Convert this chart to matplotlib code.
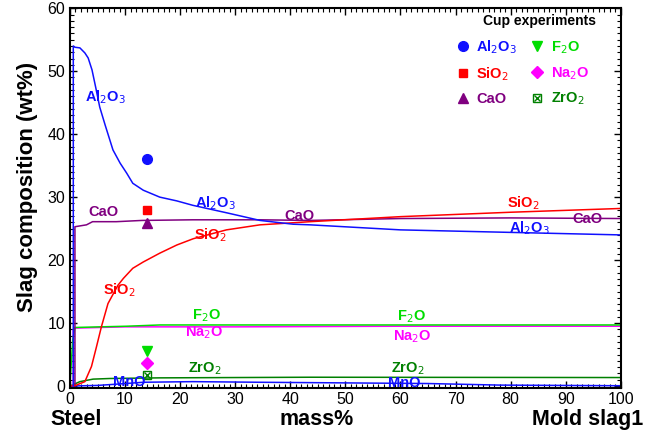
import matplotlib
matplotlib.use("Agg")
import matplotlib.pyplot as plt
from matplotlib.ticker import MultipleLocator
from matplotlib.legend_handler import HandlerTuple

plt.rcParams['font.family'] = ['Liberation Sans', 'DejaVu Sans']

# ---- data ----
al2o3_x = [0.6, 0.6, 0.9, 1.8, 2.7, 3.3, 4.0, 4.7, 5.4, 6.4, 7.8, 9.1, 10.3, 11.4, 13.3,
           16.3, 19.4, 22.3, 28.5, 34.5, 40.5, 43.6, 60, 80, 100]
al2o3_y = [0, 54.0, 53.8, 53.7, 52.9, 52.1, 50.2, 47.3, 44.3, 41.4, 37.5, 35.4, 33.8, 32.2, 31.1,
           30.0, 29.4, 28.7, 27.5, 26.3, 25.7, 25.6, 24.8, 24.4, 24.0]

sio2_x = [0, 1.0, 2.7, 3.9, 4.8, 5.7, 6.9, 8.7, 9.7, 11.4, 13.3, 16.3, 19.4, 22.4, 28.4, 34.5,
          43.6, 60, 80, 100]
sio2_y = [0, 0.1, 0.7, 3.1, 6.2, 9.4, 13.1, 16.0, 17.1, 18.7, 19.7, 21.1, 22.4, 23.4, 24.8, 25.6,
          26.1, 26.9, 27.6, 28.2]

cao_x = [0.9, 0.9, 3.0, 4.1, 8.4, 13.1, 22.3, 34.5, 43.6, 60, 80, 100]
cao_y = [0, 25.3, 25.6, 26.1, 26.1, 26.3, 26.4, 26.4, 26.3, 26.6, 26.7, 26.6]

f2o_x = [0, 0.2, 0.5, 0.9, 5.4, 10.3, 16.3, 40, 70, 100]
f2o_y = [0, 3.1, 7.3, 9.3, 9.4, 9.5, 9.7, 9.7, 9.7, 9.7]

na2o_x = [0.6, 0.6, 0.9, 10, 30, 60, 100]
na2o_y = [0, 9.0, 9.2, 9.4, 9.4, 9.5, 9.5]

zro2_x = [0, 1.8, 4.2, 7.3, 16.3, 43.6, 100]
zro2_y = [0, 0.7, 1.1, 1.2, 1.3, 1.4, 1.35]

mno_x = [0, 5.0, 8.5, 13.3, 22.3, 34.5, 50, 65, 78, 100]
mno_y = [0, 0.1, 0.3, 0.6, 0.7, 0.6, 0.5, 0.4, 0.15, 0.05]

cup_x = 14.0
cup_al2o3 = 36.1
cup_sio2 = 28.0
cup_cao = 25.9
cup_f2o = 5.6
cup_na2o = 3.6
cup_zro2 = 1.7

# label positions
labels_text = [r'Al$_2$O$_3$', 'CaO', r'SiO$_2$', r'Al$_2$O$_3$', r'SiO$_2$', 'CaO',
               r'SiO$_2$', 'CaO', r'Al$_2$O$_3$', r'F$_2$O', r'Na$_2$O', r'ZrO$_2$', 'MnO',
               r'F$_2$O', r'Na$_2$O', r'ZrO$_2$', 'MnO']
labels_x = [6.4, 6.0, 8.9, 26.5, 25.4, 41.7, 82.4, 94.0, 83.5, 24.7, 24.3, 24.5, 10.7,
            61.9, 62.1, 61.3, 60.6]
labels_y = [45.9, 27.6, 15.2, 29.0, 24.0, 27.0, 29.0, 26.5, 25.1, 11.1, 8.4, 2.7, 0.6,
            11.0, 7.8, 2.7, 0.5]

C_AL = '#1010FF'
C_SI = '#FF0000'
C_CA = '#800080'
C_F = '#00DD00'
C_NA = '#FF00FF'
C_ZR = '#008000'
C_MN = '#1010FF'
labels_color = [C_AL, C_CA, C_SI, C_AL, C_SI, C_CA, C_SI, C_CA, C_AL, C_F, C_NA, C_ZR, C_MN,
                C_F, C_NA, C_ZR, C_MN]

fig = plt.figure(figsize=(6.48, 4.32), dpi=100)
ax = fig.add_axes([0.108, 0.102, 0.850, 0.879])

lw = 1.1
ax.plot(zro2_x, zro2_y, color=C_ZR, lw=lw)
ax.plot(mno_x, mno_y, color=C_MN, lw=lw)
ax.plot(na2o_x, na2o_y, color=C_NA, lw=lw)
ax.plot(f2o_x, f2o_y, color=C_F, lw=lw)
ax.plot(cao_x, cao_y, color=C_CA, lw=lw)
ax.plot(sio2_x, sio2_y, color=C_SI, lw=lw)
ax.plot(al2o3_x, al2o3_y, color=C_AL, lw=lw)

for t, x, y, c in zip(labels_text, labels_x, labels_y, labels_color):
    ax.text(x, y, t, color=c, fontsize=10.5, fontweight='bold', ha='center', va='center')

h_al, = ax.plot([cup_x], [cup_al2o3], 'o', color=C_AL, ms=7, ls='none')
h_si, = ax.plot([cup_x], [cup_sio2], 's', color=C_SI, ms=6, ls='none')
h_ca, = ax.plot([cup_x], [cup_cao], '^', color=C_CA, ms=7, ls='none')
h_f, = ax.plot([cup_x], [cup_f2o], 'v', color=C_F, ms=7, ls='none')
h_na, = ax.plot([cup_x], [cup_na2o], 'D', color=C_NA, ms=6, ls='none')
h_zr1, = ax.plot([cup_x], [cup_zro2], 's', mfc='none', mec=C_ZR, ms=6, mew=1.0, ls='none')
h_zr2, = ax.plot([cup_x], [cup_zro2], 'x', color=C_ZR, ms=5, mew=1.0, ls='none')

leg = ax.legend([h_al, h_si, h_ca, h_f, h_na, (h_zr1, h_zr2)],
                [r'Al$_2$O$_3$', r'SiO$_2$', 'CaO', r'F$_2$O', r'Na$_2$O', r'ZrO$_2$'],
                ncol=2, frameon=False, loc='upper left', bbox_to_anchor=(0.6996, 0.921),
                borderaxespad=0, borderpad=0, handlelength=1.0, handletextpad=0.45,
                columnspacing=0.85, labelspacing=0.62,
                prop={'weight': 'bold', 'size': 10.5},
                handler_map={tuple: HandlerTuple(ndivide=1, pad=0)})
for txt, c in zip(leg.get_texts(), [C_AL, C_SI, C_CA, C_F, C_NA, C_ZR]):
    txt.set_color(c)
ax.text(0.853, 0.965, 'Cup experiments', transform=ax.transAxes, ha='center', va='center',
        fontsize=10, fontweight='bold')

ax.set_xlim(0, 100)
ax.set_ylim(-0.3, 60)
ax.xaxis.set_major_locator(MultipleLocator(10))
ax.xaxis.set_minor_locator(MultipleLocator(1))
ax.yaxis.set_major_locator(MultipleLocator(10))
ax.yaxis.set_minor_locator(MultipleLocator(1))
ax.tick_params(which='both', direction='in', top=True, right=True, labelsize=11.5)
ax.tick_params(which='major', length=5, width=1)
ax.tick_params(which='minor', length=3, width=0.8)
ax.tick_params(axis='x', pad=3)
for s in ax.spines.values():
    s.set_linewidth(1.5)

ax.text(-0.077, 0.53, 'Slag composition (wt%)', transform=ax.transAxes, rotation=90,
        ha='center', va='center', fontsize=16, fontweight='bold')
ax.text(0.011, -0.082, 'Steel', transform=ax.transAxes, ha='center', va='center',
        fontsize=15.5, fontweight='bold')
ax.text(0.448, -0.082, 'mass%', transform=ax.transAxes, ha='center', va='center',
        fontsize=15.5, fontweight='bold')
ax.text(0.940, -0.082, 'Mold slag1', transform=ax.transAxes, ha='center', va='center',
        fontsize=15.5, fontweight='bold')

fig.savefig('out.png', dpi=100)
